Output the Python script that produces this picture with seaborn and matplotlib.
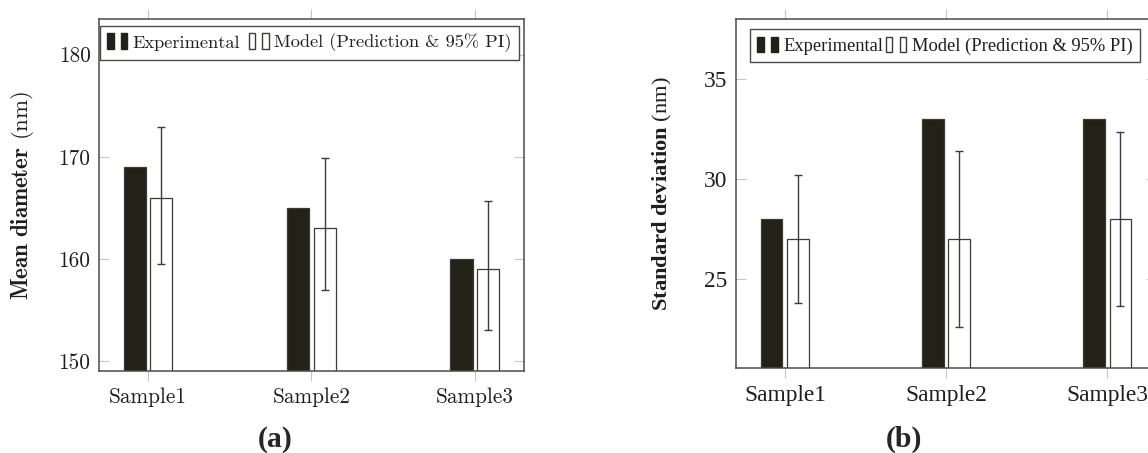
import numpy as np
import pandas as pd
import seaborn as sns
import matplotlib.pyplot as plt
from matplotlib.patches import Patch
from matplotlib.legend_handler import HandlerTuple

# Data
samples = ["Sample1", "Sample2", "Sample3"]
series = ["Experimental", "Model"]

mean_exp = [169, 165, 160]
mean_model = [166, 163, 159]
mean_pi_low = [159.45, 156.95, 153.05]
mean_pi_high = [172.95, 169.9, 165.7]

std_exp = [28, 33, 33]
std_model = [27, 27, 28]
std_pi_low = [23.8, 22.6, 23.65]
std_pi_high = [30.2, 31.4, 32.35]

legend_labels = ["Experimental", "Model (Prediction & 95% PI)"]

# Style
sns.set_style("white")
plt.rcParams["mathtext.fontset"] = "custom"
plt.rcParams["mathtext.rm"] = "Liberation Serif"
plt.rcParams["mathtext.bf"] = "Liberation Serif:bold"
plt.rcParams["mathtext.it"] = "Liberation Serif:italic"

DARK = "#222218"
EDGE = "#3a3a36"
TICK = "#cbc5b8"
FONT_A = ["cmr10", "DejaVu Serif"]
FONT_B = ["Liberation Serif", "DejaVu Serif"]


def make_frame(exp, model):
    return pd.DataFrame({
        "sample": samples * 2,
        "series": [series[0]] * 3 + [series[1]] * 3,
        "value": list(exp) + list(model),
    })


def draw_panel(ax, exp, model, lo, hi, ylim, yticks, xlim, ylabel, font, mathfam,
               tick_fs, lab_fs, leg_fs, leg_anchor, label_x, colspace):
    df = make_frame(exp, model)
    sns.barplot(data=df, x="sample", y="value", hue="series", ax=ax,
                palette={"Experimental": DARK, "Model": "white"},
                saturation=1, width=0.328, gap=0.177, errorbar=None,
                edgecolor=EDGE, linewidth=0.9, legend=False)

    # 95% prediction interval on the model bars
    xs = [p.get_x() + p.get_width() / 2 for p in ax.containers[1].patches]
    model = np.array(model)
    yerr = [model - np.array(lo), np.array(hi) - model]
    ax.errorbar(xs, model, yerr=yerr, fmt="none", ecolor="#3c3c3c",
                elinewidth=1.0, capsize=3.0, capthick=1.0, zorder=5)

    ax.set_xlim(*xlim)
    ax.set_ylim(*ylim)
    ax.set_yticks(yticks)
    ax.set_xlabel("")

    for s in ax.spines.values():
        s.set_color("#4a4a48")
        s.set_linewidth(1.1)
        s.set_visible(True)

    ax.tick_params(axis="x", which="both", direction="out", length=7, width=0.8,
                   color=TICK, top=True, bottom=True, pad=5)
    ax.tick_params(axis="y", which="both", direction="in", length=7, width=0.8,
                   color=TICK, left=True, right=True, pad=6)
    for t in ax.get_xticklabels() + ax.get_yticklabels():
        t.set_fontfamily(font)
        t.set_fontsize(tick_fs)
        t.set_color("#1e1e1e")

    ax.set_ylabel(ylabel, fontfamily=font, math_fontfamily=mathfam,
                  fontsize=lab_fs, color="#1e1e1e", va="center")
    ax.yaxis.set_label_coords(label_x, 0.5)

    h_exp = (Patch(facecolor=DARK, edgecolor=DARK), Patch(facecolor=DARK, edgecolor=DARK))
    h_mod = (Patch(facecolor="white", edgecolor=EDGE), Patch(facecolor="white", edgecolor=EDGE))
    leg = ax.legend([h_exp, h_mod], legend_labels, ncol=2, loc="upper left",
                    bbox_to_anchor=leg_anchor, borderaxespad=0,
                    handler_map={tuple: HandlerTuple(ndivide=None, pad=0.4)},
                    handlelength=1.1, handleheight=0.95, handletextpad=0.3,
                    columnspacing=colspace, borderpad=0.4, fancybox=False, framealpha=1,
                    edgecolor="#4a4a48", prop={"family": font, "size": leg_fs})
    leg.get_frame().set_linewidth(1.0)
    for t in leg.get_texts():
        t.set_color("#1e1e1e")


fig = plt.figure(figsize=(11.48, 4.53), dpi=100)
ax_a = fig.add_axes([0.0862, 0.181, 0.3702, 0.777])
ax_b = fig.add_axes([0.6411, 0.1876, 0.3659, 0.7704])

draw_panel(ax_a, mean_exp, mean_model, mean_pi_low, mean_pi_high,
           ylim=(149, 183.5), yticks=[150, 160, 170, 180], xlim=(-0.3, 2.3),
           ylabel=r"$\mathbf{Mean\ diameter}$ (nm)", font=FONT_A, mathfam="cm",
           tick_fs=15.3, lab_fs=16.5, leg_fs=13.2, leg_anchor=(0.002, 0.98),
           label_x=-0.179, colspace=0.45)

draw_panel(ax_b, std_exp, std_model, std_pi_low, std_pi_high,
           ylim=(20.55, 38.0), yticks=[25, 30, 35], xlim=(-0.303, 2.303),
           ylabel=r"$\mathbf{Standard\ deviation}$ (nm)", font=FONT_B, mathfam="custom",
           tick_fs=16.8, lab_fs=16.2, leg_fs=13.3, leg_anchor=(0.033, 0.971),
           label_x=-0.176, colspace=0.15)

fig.text(0.2395, 0.001, "(a)", ha="center", va="bottom", fontsize=21.5,
         fontweight="bold", family="Liberation Serif")
fig.text(0.7875, 0.001, "(b)", ha="center", va="bottom", fontsize=21.5,
         fontweight="bold", family="Liberation Serif")

fig.savefig("out.png", dpi=100, facecolor="white")
